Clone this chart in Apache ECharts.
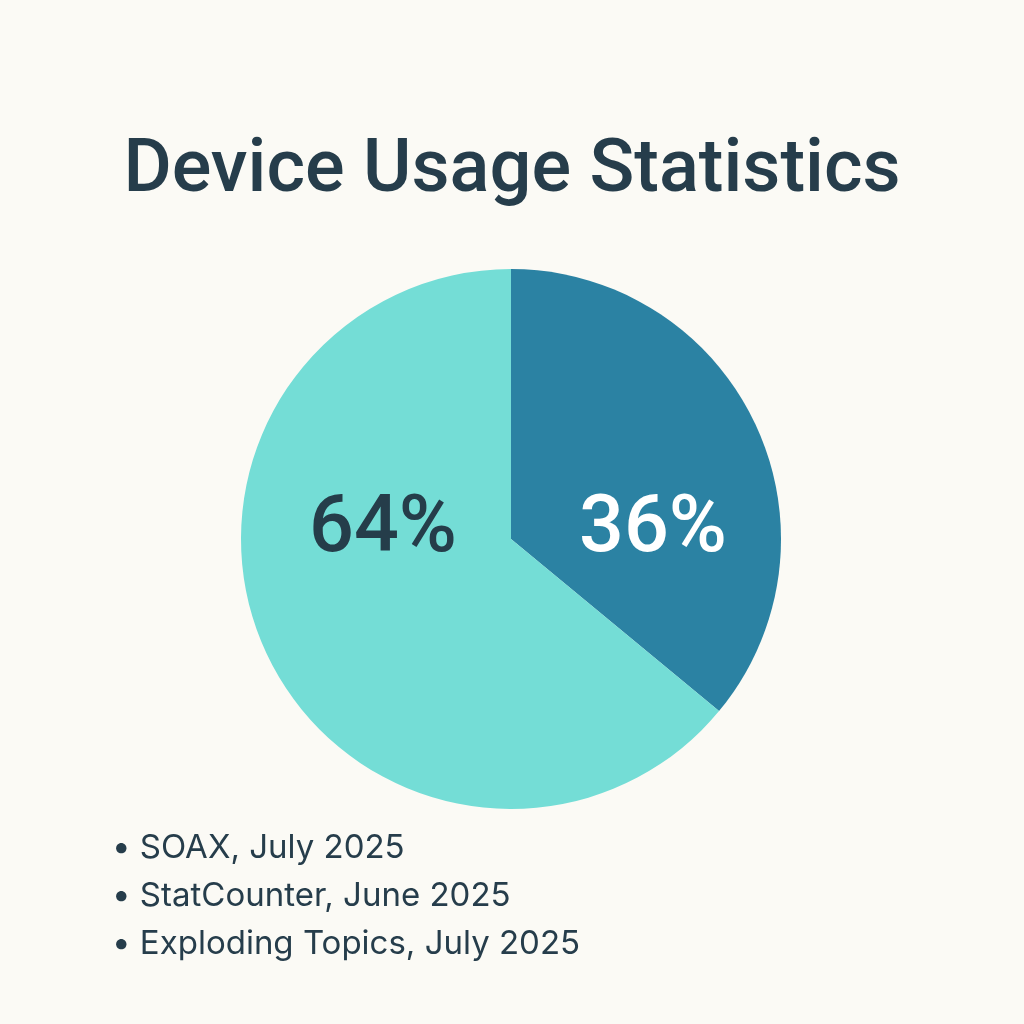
<!DOCTYPE html>
<html><head><meta charset="utf-8">
<script src="https://cdn.jsdelivr.net/npm/echarts@6/dist/echarts.min.js"></script>
<style>html,body{margin:0;padding:0;background:#fbfaf5;}#c{width:1024px;height:1024px;}</style>
</head><body><div id="c"></div>
<script>
const titleText = 'Device Usage Statistics';
const categories = ['Desktop', 'Mobile'];
const values = [36, 64];
const sliceColors = ['#2b82a3', '#74ddd6'];
const labelColors = ['#ffffff', '#253d4a'];
const sources = ['SOAX, July 2025', 'StatCounter, June 2025', 'Exploding Topics, July 2025'];

const chart = echarts.init(document.getElementById('c'));
const cx = 511, cy = 539;
chart.setOption({
  backgroundColor: '#fbfaf5',
  animation: false,
  title: [{
    text: titleText,
    left: 'center',
    top: 130,
    textStyle: {fontFamily: 'Roboto', fontSize: 74, fontWeight: 500, color: '#263d4b'}
  }, {
    text: sources.map(s => '• ' + s).join('\n'),
    left: 107,
    top: 819,
    textStyle: {fontFamily: 'Inter', fontSize: 33, fontWeight: 400, color: '#263d4b', lineHeight: 48}
  }],
  series: [{
    type: 'pie',
    center: [cx, cy],
    radius: 270,
    startAngle: 90,
    clockwise: true,
    silent: true,
    label: {
      show: true,
      position: 'inside',
      formatter: p => p.value + '%',
      fontFamily: 'Roboto',
      fontSize: 79,
      fontWeight: 500
    },
    labelLine: {show: false},
    labelLayout: function (p) {
      return {x: p.dataIndex === 0 ? cx + 142 : cx - 128, y: cy - 8, align: 'center', verticalAlign: 'middle'};
    },
    data: categories.map((c, i) => ({
      name: c,
      value: values[i],
      itemStyle: {color: sliceColors[i]},
      label: {color: labelColors[i]}
    }))
  }]
});
</script></body></html>
